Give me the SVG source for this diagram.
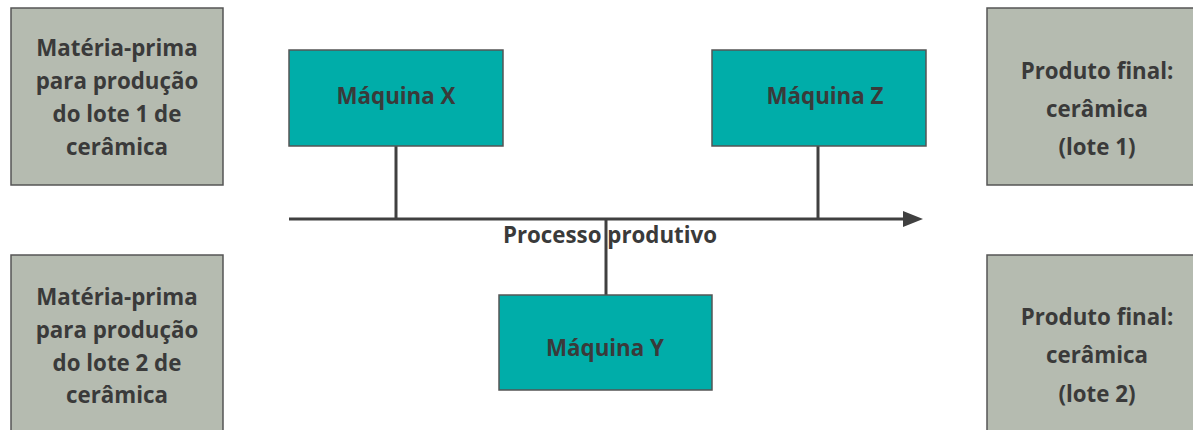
<svg xmlns="http://www.w3.org/2000/svg" width="1193" height="430" viewBox="0 0 1193 430">
  <style>
    .src { fill: #b5bbb0; stroke: #555555; stroke-width: 1.5; }
    .mac { fill: #00ada9; stroke: #555555; stroke-width: 1.5; }
    .lbl { font-family: "Open Sans", "Noto Sans", sans-serif; font-weight: bold; font-size: 22.3px; fill: #3a3a3a; text-anchor: middle; }
    .wire { stroke: #404040; stroke-width: 3; fill: none; }
  </style>
  <defs>
    <marker id="arrow" viewBox="0 0 20 16" refX="2" refY="8" markerWidth="20" markerHeight="16" markerUnits="userSpaceOnUse" orient="auto">
      <path d="M0,0 L20,8 L0,16 Z" fill="#404040"/>
    </marker>
  </defs>
  <rect width="1193" height="430" fill="#ffffff"/>

  <!-- production flow and machine links -->
  <g id="connectors">
    <line class="wire" x1="289" y1="219" x2="905" y2="219" marker-end="url(#arrow)"/>
    <line class="wire" x1="396" y1="146" x2="396" y2="219"/>
    <line class="wire" x1="818" y1="146" x2="818" y2="219"/>
    <line class="wire" x1="606" y1="219" x2="606" y2="295"/>
    <text class="lbl" x="610" y="243">Processo produtivo</text>
  </g>

  <g id="raw-material-1">
    <rect class="src" x="11" y="8" width="212" height="177"/>
    <text class="lbl" x="117" y="56">Matéria-prima</text>
    <text class="lbl" x="117" y="89">para produção</text>
    <text class="lbl" x="117" y="122">do lote 1 de</text>
    <text class="lbl" x="117" y="155">cerâmica</text>
  </g>

  <g id="raw-material-2">
    <rect class="src" x="11" y="255" width="212" height="185"/>
    <text class="lbl" x="117" y="305">Matéria-prima</text>
    <text class="lbl" x="117" y="338">para produção</text>
    <text class="lbl" x="117" y="371">do lote 2 de</text>
    <text class="lbl" x="117" y="403">cerâmica</text>
  </g>

  <g id="machine-x">
    <rect class="mac" x="289" y="50" width="214" height="96"/>
    <text class="lbl" x="396" y="104">Máquina X</text>
  </g>

  <g id="machine-z">
    <rect class="mac" x="712" y="50" width="214" height="96"/>
    <text class="lbl" x="825" y="104">Máquina Z</text>
  </g>

  <g id="machine-y">
    <rect class="mac" x="499" y="295" width="213" height="95"/>
    <text class="lbl" x="605" y="356">Máquina Y</text>
  </g>

  <g id="product-1">
    <rect class="src" x="987" y="8" width="220" height="177"/>
    <text class="lbl" x="1097" y="79">Produto final:</text>
    <text class="lbl" x="1097" y="117">cerâmica</text>
    <text class="lbl" x="1097" y="155">(lote 1)</text>
  </g>

  <g id="product-2">
    <rect class="src" x="987" y="255" width="220" height="185"/>
    <text class="lbl" x="1097" y="325">Produto final:</text>
    <text class="lbl" x="1097" y="363">cerâmica</text>
    <text class="lbl" x="1097" y="402">(lote 2)</text>
  </g>
</svg>
